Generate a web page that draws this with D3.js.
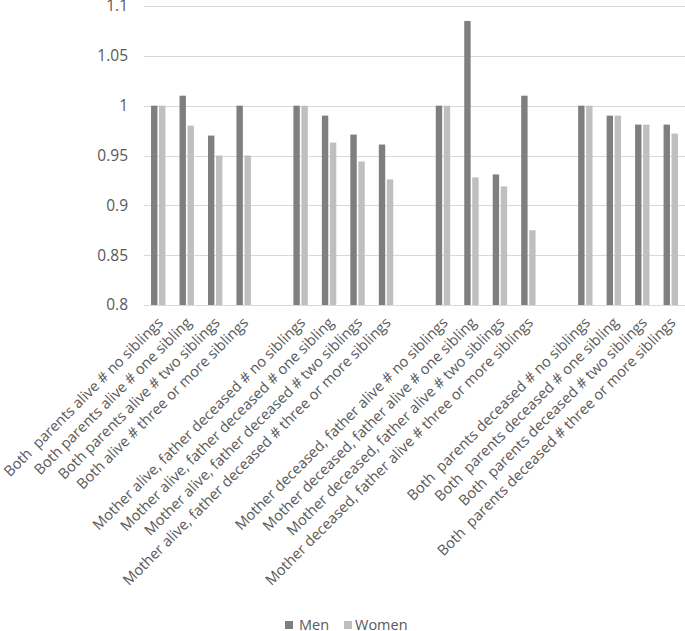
<!DOCTYPE html>
<html>
<head>
<meta charset="utf-8">
<script src="https://cdn.jsdelivr.net/npm/d3@7/dist/d3.min.js"></script>
<style>
body { margin: 0; background: #fff; }
svg text { font-family: "Open Sans", sans-serif; fill: #595959; white-space: pre; }
</style>
</head>
<body>
<svg id="chart" width="685" height="631"></svg>
<script>
const categories = [
  "Both  parents alive # no siblings",
  "Both parents alive # one sibling",
  "Both parents alive # two siblings",
  "Both alive # three or more siblings",
  "",
  "Mother alive, father deceased # no siblings",
  "Mother alive, father deceased # one sibling",
  "Mother alive, father deceased # two siblings",
  "Mother alive, father deceased # three or more siblings",
  " ",
  "Mother deceased, father alive # no siblings",
  "Mother deceased, father alive # one sibling",
  "Mother deceased, father alive # two siblings",
  "Mother deceased, father alive # three or more siblings",
  "  ",
  "Both  parents deceased # no siblings",
  "Both  parents deceased # one sibling",
  "Both  parents deceased # two siblings",
  "Both  parents deceased # three or more siblings"
];
const men   = [1.0, 1.01, 0.97, 1.0, null, 1.0, 0.99, 0.971, 0.961, null, 1.0, 1.085, 0.931, 1.01, null, 1.0, 0.99, 0.981, 0.981];
const women = [1.0, 0.98, 0.95, 0.95, null, 1.0, 0.963, 0.944, 0.926, null, 1.0, 0.928, 0.919, 0.875, null, 1.0, 0.99, 0.981, 0.972];
const seriesNames = ["Men", "Women"];
const yTicks = [0.8, 0.85, 0.9, 0.95, 1.0, 1.05, 1.1];

(function () {
const colors = ["#7f7f7f", "#bfbfbf"];
const svg = d3.select("#chart");
const mLeft = 144, mRight = 685, mTop = 6, mBottom = 305;

const x = d3.scaleBand().domain(categories).range([mLeft, mRight]).paddingInner(0).paddingOuter(0);
const y = d3.scaleLinear().domain([0.8, 1.1]).range([mBottom, mTop]);

// gridlines
svg.append("g").selectAll("line").data(yTicks).join("line")
  .attr("x1", mLeft).attr("x2", mRight)
  .attr("y1", d => Math.round(y(d)) + 0.5).attr("y2", d => Math.round(y(d)) + 0.5)
  .attr("stroke", "#d9d9d9").attr("stroke-width", 1);

// y labels
svg.append("g").selectAll("text").data(yTicks).join("text")
  .attr("x", 128).attr("y", d => y(d)).attr("dy", "0.35em")
  .attr("text-anchor", "end").style("font-size", "15.5px")
  .text(d => String(+d.toFixed(2)));

// bars
const barW = 6.4, gap = 1.6;
const data = [men, women];
data.forEach((vals, si) => {
  svg.append("g").selectAll("rect")
    .data(categories.map((c, i) => ({c, v: vals[i]})).filter(d => d.v != null))
    .join("rect")
    .attr("x", d => x(d.c) + x.bandwidth() / 2 - barW - gap / 2 + si * (barW + gap))
    .attr("width", barW)
    .attr("y", d => y(d.v))
    .attr("height", d => y(0.8) - y(d.v))
    .attr("fill", colors[si]);
});

// x labels
svg.append("g").selectAll("text").data(categories.filter(c => c.trim() !== "")).join("text")
  .attr("transform", d => `translate(${x(d) + x.bandwidth() / 2 + 2},${320}) rotate(-45)`)
  .attr("text-anchor", "end").attr("dy", "0.35em")
  .style("font-size", "14.7px")
  .text(d => d);

// legend
const legendItems = [{name: seriesNames[0], sx: 285, tx: 299}, {name: seriesNames[1], sx: 344, tx: 355}];
const lg = svg.append("g");
legendItems.forEach((it, i) => {
  lg.append("rect").attr("x", it.sx).attr("y", 621).attr("width", 8).attr("height", 8).attr("fill", colors[i]);
  lg.append("text").attr("x", it.tx).attr("y", 625).attr("dy", "0.35em").style("font-size", "14.5px").text(it.name);
});
})();
</script>
</body>
</html>
